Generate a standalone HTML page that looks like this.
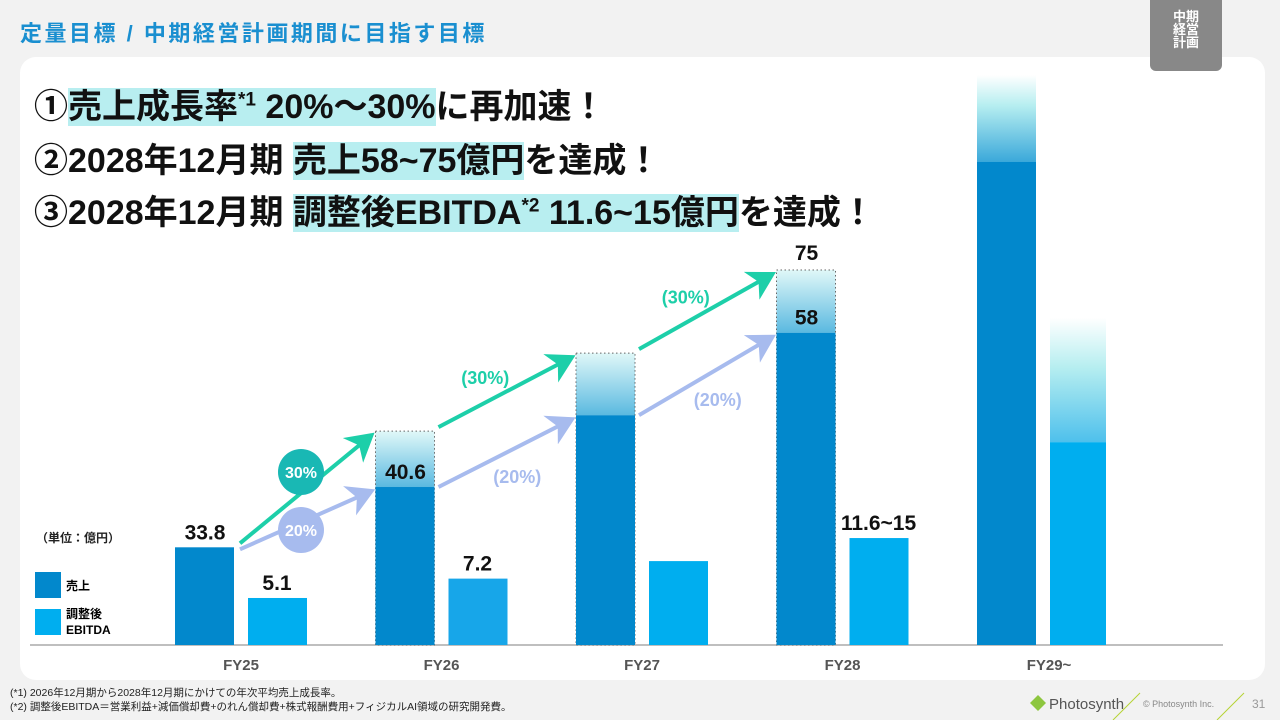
<!DOCTYPE html>
<html><head><meta charset="utf-8">
<style>
body{margin:0;width:1280px;height:720px;background:#f2f2f2;font-family:"Liberation Sans","Noto Sans CJK JP",sans-serif;overflow:hidden;position:relative}
.t{position:absolute;white-space:nowrap}
.hl{background:#b8eef0}
</style></head><body>
<div class="t" style="left:20px;top:16px;font-size:22px;font-weight:bold;color:#1a8fd0;letter-spacing:2.5px">定量目標 / 中期経営計画期間に目指す目標</div>
<div style="position:absolute;left:20px;top:57px;width:1245px;height:623px;background:#fff;border-radius:16px"></div>
<div style="position:absolute;left:1150px;top:0;width:72px;height:71px;background:#888;border-radius:0 0 6px 6px;color:#fff;font-size:13px;font-weight:bold;line-height:13px;text-align:center;padding-top:10px;box-sizing:border-box">中期<br>経営<br>計画</div>
<div class="t" style="left:34px;top:79px;font-size:34px;font-weight:bold;color:#111">①<span class="hl">売上成長率<sup style="font-size:19px">*1</sup> 20%～30%</span>に再加速！</div>
<div class="t" style="left:34px;top:133px;font-size:34px;font-weight:bold;color:#111">②2028年12月期 <span class="hl">売上58~75億円</span>を達成！</div>
<div class="t" style="left:34px;top:185px;font-size:34px;font-weight:bold;color:#111">③2028年12月期 <span class="hl">調整後EBITDA<sup style="font-size:19px">*2</sup> 11.6~15億円</span>を達成！</div>
<div class="t" style="left:36px;top:529px;font-size:12px;font-weight:bold;color:#222">（単位：億円）</div>
<div style="position:absolute;left:35px;top:572px;width:26px;height:26px;background:#0288cc"></div>
<div class="t" style="left:66px;top:577px;font-size:12px;font-weight:bold">売上</div>
<div style="position:absolute;left:35px;top:609px;width:26px;height:26px;background:#00aeef"></div>
<div class="t" style="left:66px;top:606px;font-size:12px;font-weight:bold;line-height:16px">調整後<br>EBITDA</div>
<svg id="chart" width="1280" height="720" style="position:absolute;left:0;top:0">
<defs>
<linearGradient id="g1" x1="0" y1="0" x2="0" y2="1"><stop offset="0" stop-color="#e0f8f8"/><stop offset="1" stop-color="#5ab9e0"/></linearGradient>
<linearGradient id="g2" x1="0" y1="0" x2="0" y2="1"><stop offset="0" stop-color="#ffffff"/><stop offset="0.35" stop-color="#b6eef0"/><stop offset="1" stop-color="#3aa8da"/></linearGradient>
<linearGradient id="g3" x1="0" y1="0" x2="0" y2="1"><stop offset="0" stop-color="#ffffff"/><stop offset="0.4" stop-color="#b6eef0"/><stop offset="1" stop-color="#4ec0ec"/></linearGradient>
<marker id="mt" markerWidth="8" markerHeight="8" refX="6" refY="4" orient="auto" markerUnits="strokeWidth"><path d="M0,0 L7,4 L0,8 L2,4z" fill="#1dcfa9"/></marker>
<marker id="ml" markerWidth="8" markerHeight="8" refX="6" refY="4" orient="auto" markerUnits="strokeWidth"><path d="M0,0 L7,4 L0,8 L2,4z" fill="#a7bbee"/></marker>
</defs>
</svg>
<div class="t" style="left:10px;top:685px;font-size:10.5px;color:#222">(*1) 2026年12月期から2028年12月期にかけての年次平均売上成長率。</div>
<div class="t" style="left:10px;top:699px;font-size:10.5px;color:#222">(*2) 調整後EBITDA＝営業利益+減価償却費+のれん償却費+株式報酬費用+フィジカルAI領域の研究開発費。</div>
<svg width="1280" height="720" style="position:absolute;left:0;top:0">
<path d="M1030,703 l8,-8 l8,8 l-8,8z" fill="#8dc63f"/>
<text x="1049" y="709" font-size="15" fill="#555" font-family="Liberation Sans">Photosynth</text>
<line x1="1113" y1="720" x2="1140" y2="693" stroke="#b5d334"/>
<text x="1143" y="707" font-size="9" fill="#888" font-family="Liberation Sans">© Photosynth Inc.</text>
<line x1="1217" y1="720" x2="1244" y2="693" stroke="#b5d334"/>
<text x="1252" y="708" font-size="12" fill="#999" font-family="Liberation Sans">31</text>
</svg>
<script>
const categories=["FY25","FY26","FY27","FY28","FY29~"];
const salesLow=[33.8,40.6,48.7,58,111];
const salesHigh=[null,46.9,55.7,75,140];
const ebitdaLow=[5.1,7.2,9.1,11.6,22];
const ebitdaHigh=[null,null,null,null,35.5];
const salesLabels=["33.8","40.6","","58",""];
const salesHighLabels=["","","","75",""];
const ebitdaLabels=["5.1","7.2","","11.6~15",""];
const ns="http://www.w3.org/2000/svg";
const svg=document.getElementById("chart");
const base=645,cx0=241,step=200.5,bw=59;
function xc(i){return cx0+i*step;}
const sd=[0,30,60,80,200],sr=[0,64,330,390,750];
function ySales(v){for(let k=1;k<sd.length;k++){if(v<=sd[k]){return base-(sr[k-1]+(v-sd[k-1])*(sr[k]-sr[k-1])/(sd[k]-sd[k-1]));}}return base-sr[sr.length-1];}
function yE(v){return base-v*9.22;}
function mk(tag,attrs){const e=document.createElementNS(ns,tag);for(const k in attrs)e.setAttribute(k,attrs[k]);svg.appendChild(e);return e;}
function txt(x,y,s,size,fill,anchor){const e=mk("text",{x:x,y:y,"font-size":size,fill:fill,"text-anchor":anchor||"middle","font-weight":"bold","font-family":"Liberation Sans, Noto Sans CJK JP, sans-serif"});e.textContent=s;return e;}
const axis=mk("line",{x1:30,y1:base,x2:1223,y2:base,stroke:"#aaa","stroke-width":1.5});


categories.forEach((c,i)=>{
  const sx=xc(i)-66,ex=xc(i)+7;
  const last=i===categories.length-1;
  if(salesHigh[i]!=null){
    const r=mk("rect",{x:sx,y:ySales(salesHigh[i]),width:bw,height:ySales(salesLow[i])-ySales(salesHigh[i]),fill:last?"url(#g2)":"url(#g1)"});
    
    
    if(!last){const d=mk("rect",{x:sx,y:ySales(salesHigh[i]),width:bw,height:base-ySales(salesHigh[i]),fill:"none",stroke:"#666","stroke-width":1,"stroke-dasharray":"1.5,2.5"});
    
    }
  }
  const b=mk("rect",{x:sx,y:ySales(salesLow[i]),width:bw,height:base-ySales(salesLow[i]),fill:"#0288cc"});
  
  
  if(ebitdaHigh[i]!=null){
    const r=mk("rect",{x:ex,y:yE(ebitdaHigh[i]),width:56,height:yE(ebitdaLow[i])-yE(ebitdaHigh[i]),fill:"url(#g3)"});
    
    
  }
  const e=mk("rect",{x:ex,y:yE(ebitdaLow[i]),width:last?56:59,height:base-yE(ebitdaLow[i]),fill:i===1?"#17a6e9":"#00aeef"});
  
  
  if(salesLabels[i]){const t=txt(xc(i)-36,ySales(salesLow[i])-8,salesLabels[i],21,"#111");
    
    }
  if(salesHighLabels[i]){const t=txt(xc(i)-36,ySales(salesHigh[i])-10,salesHighLabels[i],21,"#111");
    
    }
  if(ebitdaLabels[i]){const t=txt(ex+29,yE(ebitdaLow[i])-8,ebitdaLabels[i],21,"#111");
    
    }
  const l=txt(xc(i)+(last?6:0),670,c,15,"#555");
  
  
});
function arrow(x1,y1,x2,y2,col,m,name){const a=mk("line",{x1:x1,y1:y1,x2:x2,y2:y2,stroke:col,"stroke-width":4,"marker-end":"url(#"+m+")"});
  
  }
for(let i=0;i<3;i++){
  const x1=xc(i)-66+bw+4+(i===0?2:0),x2=xc(i+1)-66-4;
  const hiFrom=i===0?salesLow[0]:salesHigh[i];
  arrow(x1,ySales(hiFrom)-4,x2,ySales(salesHigh[i+1])+4,"#1dcfa9","mt","arrow-30pct-"+i);
  const loFrom=salesLow[i];
  arrow(x1,ySales(loFrom)+(i===0?2:0),x2,ySales(salesLow[i+1])+4,"#a7bbee","ml","arrow-20pct-"+i);
  if(i>0){
    const t1=txt((x1+x2)/2-20,(ySales(hiFrom)+ySales(salesHigh[i+1]))/2-8,"(30%)",18,"#1dcfa9");
    
    
    const t2=txt((x1+x2)/2+12,(ySales(loFrom)+ySales(salesLow[i+1]))/2+32,"(20%)",18,"#a7bbee");
    
    
  }
}
const c1=mk("circle",{cx:301,cy:472,r:23,fill:"#19b8b4"});


txt(301,478,"30%",16,"#fff");
const c2=mk("circle",{cx:301,cy:530,r:23,fill:"#a7bbee"});


txt(301,536,"20%",16,"#fff");
</script>
</body></html>
